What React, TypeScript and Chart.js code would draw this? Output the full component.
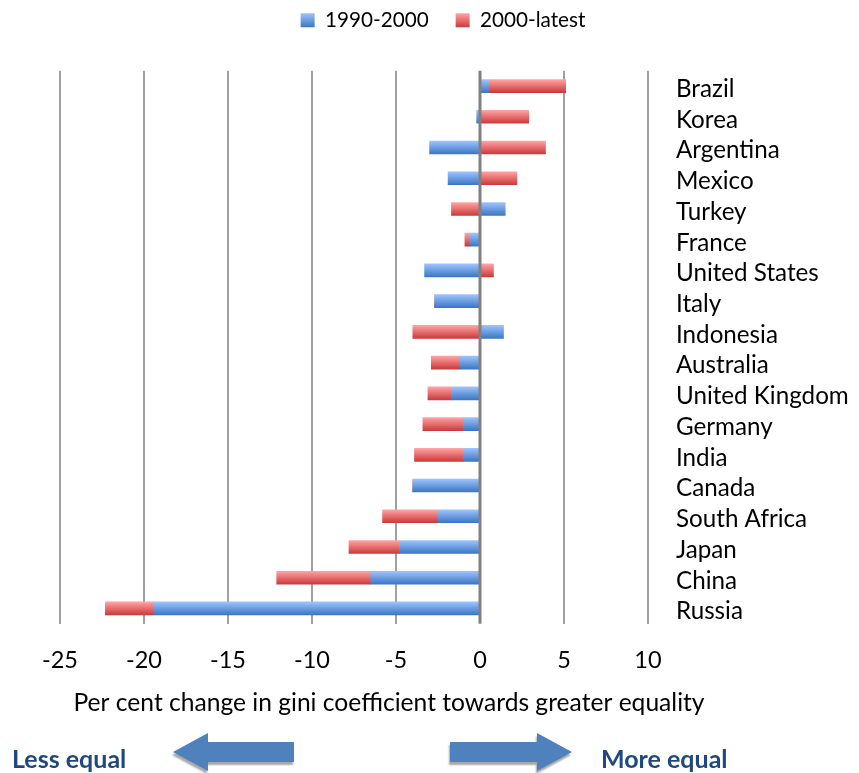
import React, { useEffect, useRef } from 'react';
import { Chart, registerables } from 'chart.js';

Chart.register(...registerables);

// ---------- data ----------
const countries = [
  'Brazil', 'Korea', 'Argentina', 'Mexico', 'Turkey', 'France', 'United States', 'Italy',
  'Indonesia', 'Australia', 'United Kingdom', 'Germany', 'India', 'Canada', 'South Africa',
  'Japan', 'China', 'Russia',
];
const change1990to2000 = [0.5, -0.2, -3.0, -1.9, 1.5, -0.6, -3.3, -2.7, 1.4, -1.2, -1.7, -1.0, -1.0, -4.0, -2.5, -4.8, -6.5, -19.4];
const change2000toLatest = [4.6, 2.9, 3.9, 2.2, -1.7, -0.3, 0.8, 0, -4.0, -1.7, -1.4, -2.4, -2.9, 0, -3.3, -3.0, -5.6, -2.9];
const seriesNames = ['1990-2000', '2000-latest'];
const xMin = -25;
const xMax = 10;
const xStep = 5;
const xAxisTitle = 'Per cent change in gini coefficient towards greater equality';
const leftArrowLabel = 'Less equal';
const rightArrowLabel = 'More equal';

// ---------- style ----------
const FONT = 'Lato, "Noto Sans", sans-serif';
const W = 859;
const H = 773;
const BAR = 13;
const LIGHT = ['#9ec3fb', '#ffa3a3'];
const DARK = ['#3a77c6', '#cb3a3a'];
const SOLID = ['#6a9be0', '#e86a6a'];
const LEGEND_FONT = 20.7;
const LEGEND_BOX = 14;
const LEGEND_PAD = 27;
const TOP_PAD = -17;

const makeFill = (i: number) => (c: any) => {
  if (c.type !== 'data') return SOLID[i];
  const chart = c.chart;
  const y = chart.scales && chart.scales.y;
  if (!y || !chart.chartArea) return SOLID[i];
  const yc = y.getPixelForValue(c.dataIndex);
  const g = chart.ctx.createLinearGradient(0, yc - BAR / 2, 0, yc + BAR / 2);
  g.addColorStop(0, LIGHT[i]);
  g.addColorStop(1, DARK[i]);
  return g;
};

function drawArrow(ctx: CanvasRenderingContext2D, tailX: number, tipX: number, cy: number) {
  const shaftHalf = 10;
  const headHalf = 19;
  const headLen = 35;
  const dir = Math.sign(tipX - tailX);
  const baseX = tipX - dir * headLen;
  ctx.beginPath();
  ctx.moveTo(tailX, cy - shaftHalf);
  ctx.lineTo(baseX, cy - shaftHalf);
  ctx.lineTo(baseX, cy - headHalf);
  ctx.lineTo(tipX, cy);
  ctx.lineTo(baseX, cy + headHalf);
  ctx.lineTo(baseX, cy + shaftHalf);
  ctx.lineTo(tailX, cy + shaftHalf);
  ctx.closePath();
  ctx.fill();
}

// adds room between the legend and the plot
const legendSpacer = {
  id: 'legendSpacer',
  beforeInit(chart: any) {
    const legend = chart.legend;
    if (!legend) return;
    const fit = legend.fit;
    legend.fit = function () {
      fit.call(this);
      this.height += 30;
    };
  },
};

const annotations = {
  id: 'giniAnnotations',
  afterDatasetsDraw(chart: any) {
    const { ctx, chartArea } = chart;
    const px = chart.scales.x.getPixelForValue(0);
    ctx.save();
    ctx.strokeStyle = '#808080';
    ctx.lineWidth = 3;
    ctx.beginPath();
    ctx.moveTo(px, chartArea.top);
    ctx.lineTo(px, chartArea.bottom);
    ctx.stroke();
    ctx.restore();
  },
  afterDraw(chart: any) {
    const { ctx } = chart;
    ctx.save();
    // axis title
    ctx.fillStyle = '#000';
    ctx.font = `24.6px ${FONT}`;
    ctx.textAlign = 'center';
    ctx.textBaseline = 'middle';
    ctx.fillText(xAxisTitle, 389, 703);
    // arrows
    ctx.save();
    ctx.fillStyle = '#4f81bd';
    ctx.shadowColor = 'rgba(0,0,0,0.35)';
    ctx.shadowOffsetX = -1;
    ctx.shadowOffsetY = 3;
    ctx.shadowBlur = 2;
    drawArrow(ctx, 294, 173, 752);
    drawArrow(ctx, 450, 572, 752);
    ctx.restore();
    // arrow labels
    ctx.fillStyle = '#1f497d';
    ctx.font = `bold 25px ${FONT}`;
    ctx.textAlign = 'left';
    ctx.textBaseline = 'alphabetic';
    ctx.fillText(leftArrowLabel, 12, 768);
    ctx.fillText(rightArrowLabel, 601, 768);
    ctx.restore();
  },
};

export default function App() {
  const ref = useRef<HTMLCanvasElement>(null);

  useEffect(() => {
    if (!ref.current) return;
    const defaultLabels = (Chart.defaults as any).plugins.legend.labels.generateLabels;
    const chart = new Chart(ref.current, {
      type: 'bar',
      data: {
        labels: countries,
        datasets: [
          {
            label: seriesNames[0],
            data: change1990to2000,
            backgroundColor: makeFill(0),
            barThickness: BAR,
            borderWidth: 0,
          },
          {
            label: seriesNames[1],
            data: change2000toLatest,
            backgroundColor: makeFill(1),
            barThickness: BAR,
            borderWidth: 0,
          },
        ],
      },
      options: {
        indexAxis: 'y',
        responsive: false,
        animation: false,
        events: [],
        layout: { padding: { left: 27, right: 0, top: TOP_PAD, bottom: 75 } },
        plugins: {
          tooltip: { enabled: false },
          legend: {
            position: 'top',
            labels: {
              boxWidth: LEGEND_BOX,
              boxHeight: LEGEND_BOX,
              padding: LEGEND_PAD,
              color: '#000',
              font: { family: FONT, size: LEGEND_FONT },
              generateLabels: (ch: any) => {
                const items = defaultLabels(ch);
                const lg = ch.legend;
                const top = (lg && typeof lg.top === 'number' ? lg.top : TOP_PAD)
                  + LEGEND_PAD + (LEGEND_FONT - LEGEND_BOX) / 2;
                items.forEach((it: any, i: number) => {
                  const g = ch.ctx.createLinearGradient(0, top, 0, top + LEGEND_BOX);
                  g.addColorStop(0, LIGHT[i]);
                  g.addColorStop(1, DARK[i]);
                  it.fillStyle = g;
                  it.lineWidth = 0;
                });
                return items;
              },
            },
          },
        },
        scales: {
          x: {
            stacked: true,
            min: xMin,
            max: xMax,
            afterFit: (s: any) => { s.paddingLeft = 60; },
            ticks: { stepSize: xStep, padding: 23, color: '#000', font: { family: FONT, size: 23.5 } },
            grid: {
              drawTicks: false,
              lineWidth: 2,
              color: (c: any) => (c.tick && c.tick.value === 0 ? 'rgba(0,0,0,0)' : '#a0a0a0'),
            },
            border: { display: false },
          },
          y: {
            stacked: true,
            position: 'right',
            afterFit: (s: any) => { s.width = 211; },
            ticks: { autoSkip: false, padding: 28, labelOffset: 3, color: '#000', font: { family: FONT, size: 24.2 } },
            grid: { display: false, drawTicks: false },
            border: { display: false },
          },
        },
      },
      plugins: [legendSpacer, annotations],
    });
    return () => chart.destroy();
  }, []);

  return (
    <div style={{ position: 'absolute', left: 0, top: 0, width: W, height: H, background: '#fff' }}>
      <canvas ref={ref} width={W} height={H} style={{ display: 'block' }} />
    </div>
  );
}
